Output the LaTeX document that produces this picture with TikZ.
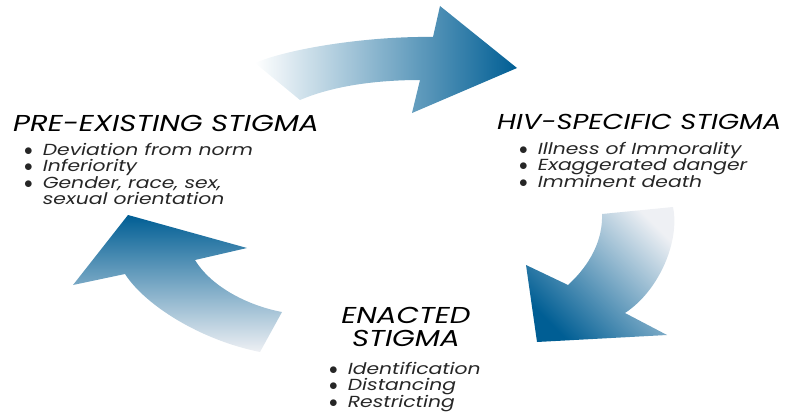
\documentclass[tikz,border=0pt]{standalone}
\usepackage{fontspec}
\setmainfont{Poppins}[FakeStretch=1.27]

\definecolor{cycleblue}{RGB}{0,94,148}
\definecolor{cyclepale}{RGB}{238,240,244}

\begin{document}
\begin{tikzpicture}[x=1pt, y=-1pt,
  head/.style = {anchor=base west, inner sep=0pt, text=black, font=\fontsize{23}{23}\selectfont\itshape},
  list/.style = {anchor=base west, inner sep=0pt, text=black!85, font=\fontsize{16}{15}\selectfont\itshape}]

\useasboundingbox (0,0) rectangle (787,412);

% the three curved arrows of the cycle
\shade[left color=white, right color=cycleblue]
  (255,63) .. controls (290,48) and (370,36) .. (433,37) -- (440,6) -- (517,68) -- (412,113)
  -- (420,80) .. controls (380,80) and (335,85) .. (300,100) -- cycle;
\shade[top color=cyclepale, bottom color=cycleblue, shading angle=-45]
  (602,214) -- (673,207) .. controls (680,240) and (660,290) .. (625,313) -- (667,335)
  -- (537,342) -- (526,265) -- (568,285) .. controls (590,265) and (603,240) .. (602,214) -- cycle;
\shade[top color=cycleblue, bottom color=cyclepale]
  (128,215) -- (247,248) -- (195,260) .. controls (210,285) and (245,305) .. (282,312)
  -- (260,352) .. controls (200,340) and (145,305) .. (125,274) -- (73,285) -- cycle;

% stages
\node[head] (pre) at (13,131) {PRE-EXISTING STIGMA};
\node[list] (prelist) at (24,155) {\begin{tabular}[t]{@{}l@{\hspace{10pt}}l@{}}
  $\bullet$ & Deviation from norm\\
  $\bullet$ & Inferiority\\
  $\bullet$ & Gender, race, sex,\\
            & sexual orientation\end{tabular}};

\node[head, font=\fontsize{21.6}{23}\selectfont\itshape] (hiv) at (497,129) {HIV-SPECIFIC STIGMA};
\node[list] (hivlist) at (519,154) {\begin{tabular}[t]{@{}l@{\hspace{10pt}}l@{}}
  $\bullet$ & Illness of Immorality\\
  $\bullet$ & Exaggerated danger\\
  $\bullet$ & Imminent death\end{tabular}};

\node[head, anchor=base] (enacted) at (406,323) {\begin{tabular}[t]{@{}c@{}}ENACTED\\ STIGMA\end{tabular}};
\node[list, font=\fontsize{16}{14.5}\selectfont\itshape] (enactedlist) at (329,374) {\begin{tabular}[t]{@{}l@{\hspace{10pt}}l@{}}
  $\bullet$ & Identification\\
  $\bullet$ & Distancing\\
  $\bullet$ & Restricting\end{tabular}};
\end{tikzpicture}
\end{document}
